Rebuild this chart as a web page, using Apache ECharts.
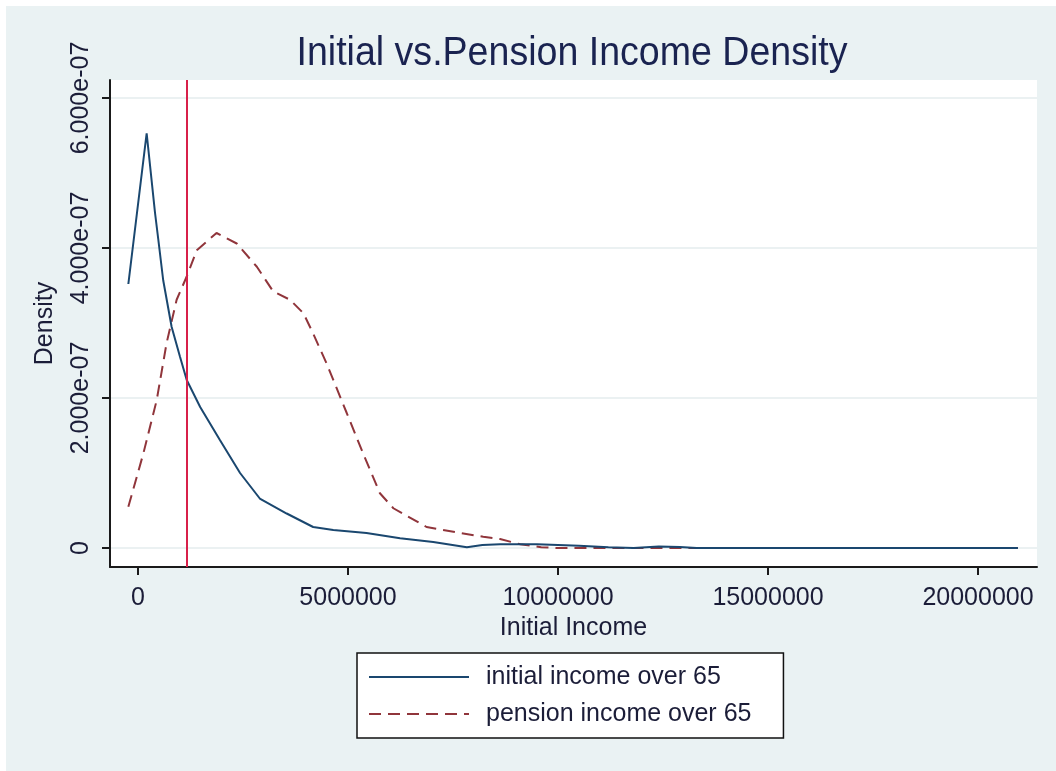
<!DOCTYPE html>
<html>
<head>
<meta charset="utf-8">
<title>Initial vs.Pension Income Density</title>
<script src="https://cdn.jsdelivr.net/npm/echarts@6/dist/echarts.min.js"></script>
<style>
  html, body { margin: 0; padding: 0; background: #ffffff; }
  #chart { width: 1056px; height: 771px; }
</style>
</head>
<body>
<div id="chart"></div>
<script>
// Kernel density of initial income (age 65+)
const initialX = [-230000, 206000, 405000, 484000, 600000, 800000, 1000000, 1160000, 1480000, 1950000,
  2430000, 2900000, 3540000, 4170000, 4650000, 5440000, 6240000, 7030000, 7830000, 8200000, 8620000,
  9500000, 10500000, 11200000, 11800000, 12400000, 12900000, 13300000, 20950000];
const initialY = [3.52e-7, 5.53e-7, 4.47e-7, 4.11e-7, 3.57e-7, 2.95e-7, 2.55e-7, 2.24e-7, 1.88e-7, 1.44e-7,
  1.00e-7, 0.66e-7, 0.46e-7, 0.28e-7, 0.24e-7, 0.20e-7, 0.13e-7, 0.08e-7, 0.01e-7, 0.04e-7, 0.05e-7,
  0.05e-7, 0.03e-7, 0.01e-7, 0, 0.02e-7, 0.015e-7, 0, 0];

// Kernel density of pension income (age 65+)
const pensionX = [-230000, 127000, 445000, 680000, 920000, 1160000, 1400000, 1870000, 2350000, 2830000,
  3220000, 3620000, 3940000, 4170000, 4490000, 4970000, 5360000, 5760000, 6080000, 6870000, 7670000,
  8220000, 8620000, 9100000, 9600000, 10000000, 20950000];
const pensionY = [0.55e-7, 1.26e-7, 1.97e-7, 2.73e-7, 3.31e-7, 3.62e-7, 3.97e-7, 4.20e-7, 4.06e-7, 3.75e-7,
  3.42e-7, 3.31e-7, 3.13e-7, 2.86e-7, 2.46e-7, 1.80e-7, 1.26e-7, 0.73e-7, 0.53e-7, 0.28e-7, 0.20e-7,
  0.15e-7, 0.12e-7, 0.05e-7, 0.01e-7, 0, 0];

// Reference line on the income axis
const referenceIncome = 1160000;

// Axis ticks and labels
const xTicks = [0, 5000000, 10000000, 15000000, 20000000];
const xTickLabels = ['0', '5000000', '10000000', '15000000', '20000000'];
const yTicks = [0, 2e-7, 4e-7, 6e-7];
const yTickLabels = ['0', '2.000e-07', '4.000e-07', '6.000e-07'];

const seriesNames = ['initial income over 65', 'pension income over 65'];
const titleText = 'Initial vs.Pension Income Density';
const xTitle = 'Initial Income';
const yTitle = 'Density';

const FONT = "'Liberation Sans', Arial, sans-serif";
const INK = '#1b1d38';
const AXIS = '#1a1a1a';

const pairs = (xs, ys) => xs.map((x, i) => [x, ys[i]]);
const labelFor = (ticks, labels) => v => {
  const i = ticks.findIndex(t => Math.abs(t - v) <= Math.abs(t) * 1e-9 + 1e-20);
  return i >= 0 ? labels[i] : '';
};

const chart = echarts.init(document.getElementById('chart'), null, { renderer: 'canvas' });
chart.setOption({
  animation: false,
  backgroundColor: '#ffffff',
  graphic: [
    { type: 'rect', z: -10, silent: true,
      shape: { x: 6, y: 6, width: 1050, height: 765 },
      style: { fill: '#eaf2f3' } },
    // slightly condensed title text, centred over the plot area
    { type: 'text', x: 572, y: 54, scaleX: 0.916, originX: 0, originY: 0, silent: true,
      style: { text: titleText, fontSize: 41, fontFamily: FONT, fill: '#1a2350',
               textAlign: 'center', textVerticalAlign: 'middle' } }
  ],
  grid: {
    left: 110, top: 80, right: 19, bottom: 204,
    show: true, backgroundColor: '#ffffff', borderWidth: 0,
    outerBoundsMode: 'none'
  },
  legend: {
    orient: 'vertical',
    left: 357, top: 653,
    backgroundColor: '#ffffff',
    borderColor: '#111111', borderWidth: 1.5, borderRadius: 0,
    padding: [11, 32, 11, 11],
    itemWidth: 100, itemHeight: 14, itemGap: 11,
    // line-only keys: hide the marker drawn on top of the line
    itemStyle: { color: 'rgba(0,0,0,0)', borderColor: 'rgba(0,0,0,0)', borderWidth: 0, opacity: 0 },
    textStyle: { fontSize: 25, lineHeight: 26, color: INK, fontFamily: FONT, padding: [0, 0, 0, 12] },
    data: seriesNames
  },
  xAxis: {
    type: 'value',
    min: -666667, max: 21404762,
    name: xTitle, nameLocation: 'middle', nameGap: 42,
    nameTextStyle: { fontSize: 25, color: INK, fontFamily: FONT },
    axisLine: { show: true, onZero: false, lineStyle: { color: AXIS, width: 2 } },
    axisTick: { show: true, customValues: xTicks, length: 8, lineStyle: { color: AXIS, width: 2 } },
    axisLabel: { customValues: xTicks, formatter: labelFor(xTicks, xTickLabels), margin: 19,
                 fontSize: 25, color: INK, fontFamily: FONT },
    splitLine: { show: false }
  },
  yAxis: {
    type: 'value',
    min: -2.533e-8, max: 6.24e-7,
    name: yTitle, nameLocation: 'middle', nameGap: 52, nameRotate: 90,
    nameTextStyle: { fontSize: 25, color: INK, fontFamily: FONT },
    axisLine: { show: true, onZero: false, lineStyle: { color: AXIS, width: 2 } },
    axisTick: { show: true, customValues: yTicks, length: 8, lineStyle: { color: AXIS, width: 2 } },
    axisLabel: { customValues: yTicks, formatter: labelFor(yTicks, yTickLabels), rotate: 90, margin: 16,
                 fontSize: 25, color: INK, fontFamily: FONT },
    splitLine: { show: true, lineStyle: { color: '#e4ecee', width: 1.5 } }
  },
  series: [
    {
      name: seriesNames[0], type: 'line', data: pairs(initialX, initialY),
      symbol: 'none', smooth: false,
      lineStyle: { color: '#1a476f', width: 2 },
      itemStyle: { color: '#1a476f' },
      markLine: {
        silent: true, symbol: 'none', label: { show: false },
        lineStyle: { color: '#d8204a', width: 2, type: 'solid' },
        data: [{ xAxis: referenceIncome }]
      },
      z: 3
    },
    {
      name: seriesNames[1], type: 'line', data: pairs(pensionX, pensionY),
      symbol: 'none', smooth: false,
      lineStyle: { color: '#90353b', width: 2, type: [12, 7] },
      itemStyle: { color: '#90353b' },
      z: 2
    }
  ]
});
</script>
</body>
</html>
